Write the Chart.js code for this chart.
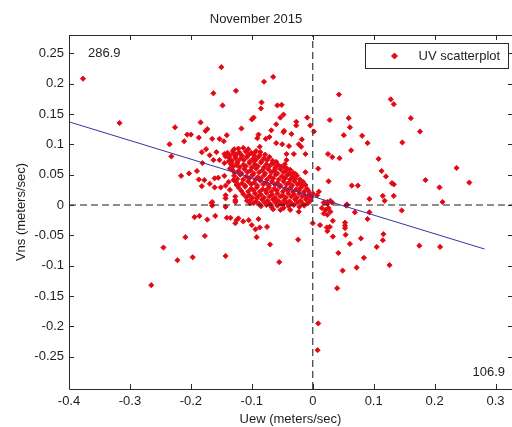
<!DOCTYPE html>
<html>
<head>
<meta charset="utf-8">
<script src="https://cdn.jsdelivr.net/npm/chart.js@4"></script>
<style>
  html, body { margin: 0; padding: 0; background: #ffffff; }
  canvas { display: block; }
</style>
</head>
<body>
<canvas id="c" width="512" height="427"></canvas>
<script>
// ---- data ----
const chartTitle = 'November 2015';
const xAxisTitle = 'Uew (meters/sec)';
const yAxisTitle = 'Vns (meters/sec)';
const seriesName = 'UV scatterplot';
const cornerLabels = ['286.9', '106.9'];

const xTicks = [-0.4, -0.3, -0.2, -0.1, 0, 0.1, 0.2, 0.3];
const yTicks = [-0.25, -0.2, -0.15, -0.1, -0.05, 0, 0.05, 0.1, 0.15, 0.2, 0.25];
const xRange = [-0.4, 0.327];
const yRange = [-0.303, 0.28];

// regression line end points [u, v]
const fitLine = [[-0.4, 0.137], [0.282, -0.0725]];

// scattered (isolated) points [u, v]
const scatterOuter = [
  [-0.377,0.208],[-0.317,0.135],
  [-0.150,0.227],[-0.126,0.188],[-0.163,0.184],[-0.148,0.164],[-0.226,0.128],[-0.184,0.136],[-0.206,0.116],[-0.200,0.116],
  [-0.176,0.122],[-0.173,0.125],[-0.141,0.115],[-0.187,0.111],[-0.165,0.109],[-0.153,0.109],[-0.146,0.105],[-0.211,0.105],
  [-0.235,0.100],[-0.232,0.080],[-0.129,0.092],[-0.175,0.092],[-0.182,0.087],[-0.158,0.087],[-0.169,0.082],[-0.145,0.084],
  [-0.163,0.074],[-0.153,0.074],[-0.181,0.069],[-0.143,0.080],[-0.138,0.072],[-0.145,0.069],[-0.133,0.070],[-0.127,0.077],
  [-0.125,0.066],[-0.136,0.060],[-0.190,0.056],[-0.216,0.048],[-0.203,0.052],[-0.187,0.042],[-0.178,0.041],[-0.161,0.044],
  [-0.155,0.045],[-0.145,0.048],[-0.182,0.031],[-0.169,0.035],[-0.161,0.029],[-0.151,0.029],[-0.143,0.032],[-0.138,0.038],
  [-0.143,0.016],[-0.165,0.005],[-0.127,0.014],[-0.127,0.005],[-0.136,0.025],[-0.130,0.041],[-0.125,0.033],
  [-0.065,0.211],[-0.080,0.203],[-0.084,0.169],[-0.085,0.159],[-0.058,0.164],[-0.051,0.165],[-0.048,0.149],[-0.053,0.144],
  [-0.100,0.141],[-0.097,0.144],[-0.009,0.144],[-0.027,0.137],[-0.027,0.131],[-0.004,0.131],[-0.060,0.133],[-0.117,0.126],
  [-0.068,0.123],[-0.048,0.120],[-0.047,0.122],[-0.035,0.117],[0.002,0.121],[-0.089,0.116],[-0.091,0.110],[-0.077,0.109],
  [-0.071,0.112],[-0.018,0.108],[-0.060,0.102],[-0.050,0.100],[-0.039,0.097],[-0.023,0.100],[-0.019,0.096],[-0.087,0.096],
  [-0.122,0.093],[-0.114,0.094],[-0.106,0.092],[-0.130,0.085],[-0.119,0.084],[-0.106,0.082],[-0.096,0.085],[-0.043,0.084],
  [-0.031,0.084],[-0.012,0.084],[-0.043,0.074],[-0.046,0.067],[-0.065,0.068],[-0.062,0.059],[-0.042,0.060],[0.009,0.060],
  [-0.037,0.051],[-0.028,0.051],[-0.012,0.054],[-0.046,0.044],[-0.096,0.072],[0.000,0.019],
  [0.043,0.182],[0.128,0.174],[0.133,0.166],[0.028,0.140],[0.059,0.143],[0.161,0.143],[0.061,0.128],[0.051,0.115],
  [0.081,0.114],[0.090,0.102],[0.147,0.103],[0.063,0.090],[0.025,0.084],[0.032,0.079],[0.044,0.077],[0.108,0.076],
  [0.113,0.056],[0.120,0.047],[0.026,0.039],[0.130,0.036],[0.133,0.034],[0.064,0.032],[0.074,0.032],[0.115,0.015],
  [0.133,0.015],[0.093,0.010],[0.118,0.007],[0.010,0.022],[0.007,0.016],[0.024,0.005],[0.029,0.007],[0.056,0.001],
  [0.176,0.121],[0.236,0.061],[0.185,0.041],[0.257,0.037],[0.208,0.029],[0.213,0.005],
  [-0.166,0.003],[-0.165,-0.001],[-0.143,0.011],[-0.143,-0.003],[-0.127,0.008],
  [-0.194,-0.020],[-0.186,-0.018],[-0.173,-0.024],[-0.160,-0.018],[-0.141,-0.021],[-0.135,-0.021],[-0.127,-0.030],[-0.125,-0.025],
  [-0.209,-0.053],[-0.177,-0.051],[-0.245,-0.070],[-0.222,-0.091],[-0.197,-0.086],[-0.143,-0.084],[-0.265,-0.132],
  [-0.108,0.007],[-0.103,0.003],[-0.092,0.011],[-0.075,0.005],[-0.059,0.008],[-0.048,-0.005],[-0.037,-0.008],[-0.023,-0.011],
  [-0.122,-0.022],[-0.114,-0.027],[-0.105,-0.025],[-0.100,-0.033],[-0.094,-0.040],[-0.087,-0.037],[-0.089,-0.023],[-0.075,-0.036],
  [-0.065,-0.007],[-0.053,-0.008],[-0.092,-0.053],[-0.070,-0.065],[-0.024,-0.057],[-0.055,-0.094],[0.000,-0.030],
  [0.009,-0.195],[0.008,-0.239],
  [0.018,0.004],[0.024,0.002],[0.015,-0.005],[0.021,-0.008],[0.026,-0.005],[0.018,-0.014],[0.024,-0.016],[0.029,-0.011],
  [0.032,0.004],[0.055,-0.001],[0.069,-0.012],[0.093,-0.012],[0.146,-0.009],[0.090,-0.023],[0.012,-0.033],[0.023,-0.037],
  [0.028,-0.036],[0.024,-0.043],[0.033,-0.026],[0.053,-0.029],[0.053,-0.034],[0.053,-0.038],[0.054,-0.049],[0.033,-0.052],
  [0.061,-0.064],[0.079,-0.055],[0.116,-0.048],[0.115,-0.058],[0.105,-0.069],[0.042,-0.079],[0.084,-0.087],[0.049,-0.108],
  [0.072,-0.103],[0.126,-0.099],[0.040,-0.137],
  [0.175,-0.067],[0.209,-0.069]
];

// dense core of points (estimated positions inside the solid red cluster) [u, v]
const scatterCore = [
  [-0.140,0.086],[-0.131,0.089],[-0.121,0.087],[-0.110,0.088],[-0.101,0.086],[-0.093,0.089],[-0.086,0.087],
  [-0.136,0.082],[-0.126,0.083],[-0.116,0.081],[-0.105,0.083],[-0.096,0.081],[-0.087,0.082],[-0.078,0.083],
  [-0.137,0.078],[-0.127,0.080],[-0.118,0.077],[-0.108,0.079],[-0.098,0.076],[-0.089,0.079],[-0.080,0.077],[-0.071,0.079],
  [-0.133,0.073],[-0.123,0.072],[-0.113,0.074],[-0.103,0.072],[-0.094,0.074],[-0.084,0.072],[-0.075,0.074],[-0.066,0.073],[-0.060,0.071],
  [-0.134,0.067],[-0.124,0.069],[-0.114,0.066],[-0.104,0.069],[-0.095,0.067],[-0.085,0.070],[-0.076,0.067],[-0.066,0.069],[-0.057,0.066],
  [-0.131,0.063],[-0.120,0.062],[-0.110,0.064],[-0.100,0.062],[-0.090,0.064],[-0.080,0.062],[-0.071,0.064],[-0.061,0.062],[-0.052,0.063],[-0.046,0.062],
  [-0.132,0.058],[-0.122,0.056],[-0.112,0.059],[-0.102,0.057],[-0.093,0.060],[-0.083,0.057],[-0.073,0.059],[-0.063,0.056],[-0.053,0.059],[-0.044,0.056],[-0.037,0.058],
  [-0.128,0.053],[-0.117,0.052],[-0.107,0.054],[-0.097,0.052],[-0.088,0.054],[-0.078,0.052],[-0.068,0.054],[-0.058,0.052],[-0.048,0.054],[-0.039,0.052],[-0.032,0.053],
  [-0.129,0.048],[-0.119,0.050],[-0.109,0.047],[-0.099,0.049],[-0.090,0.046],[-0.080,0.049],[-0.070,0.047],[-0.061,0.050],[-0.051,0.047],[-0.042,0.049],[-0.033,0.046],[-0.026,0.048],
  [-0.124,0.043],[-0.114,0.042],[-0.104,0.044],[-0.094,0.042],[-0.085,0.044],[-0.075,0.042],[-0.065,0.044],[-0.056,0.042],[-0.046,0.044],[-0.037,0.042],[-0.029,0.043],[-0.021,0.042],
  [-0.126,0.038],[-0.116,0.036],[-0.106,0.039],[-0.096,0.037],[-0.086,0.040],[-0.077,0.037],[-0.067,0.039],[-0.058,0.036],[-0.048,0.039],[-0.039,0.037],[-0.030,0.039],[-0.022,0.036],[-0.016,0.038],
  [-0.122,0.033],[-0.111,0.032],[-0.101,0.034],[-0.091,0.032],[-0.081,0.034],[-0.072,0.032],[-0.062,0.034],[-0.053,0.032],[-0.043,0.034],[-0.034,0.032],[-0.025,0.034],[-0.018,0.032],[-0.012,0.033],
  [-0.121,0.028],[-0.111,0.030],[-0.101,0.027],[-0.092,0.029],[-0.082,0.026],[-0.072,0.029],[-0.063,0.027],[-0.054,0.030],[-0.045,0.027],[-0.036,0.029],[-0.027,0.026],[-0.019,0.029],[-0.010,0.027],
  [-0.117,0.023],[-0.106,0.022],[-0.097,0.024],[-0.087,0.022],[-0.077,0.024],[-0.068,0.022],[-0.059,0.024],[-0.049,0.022],[-0.041,0.024],[-0.032,0.022],[-0.023,0.024],[-0.014,0.022],[-0.007,0.023],
  [-0.114,0.018],[-0.104,0.016],[-0.095,0.019],[-0.085,0.017],[-0.076,0.020],[-0.067,0.017],[-0.058,0.019],[-0.049,0.016],[-0.040,0.019],[-0.031,0.017],[-0.022,0.019],[-0.013,0.016],[-0.005,0.018],
  [-0.109,0.013],[-0.099,0.012],[-0.090,0.014],[-0.080,0.012],[-0.071,0.014],[-0.062,0.012],[-0.053,0.014],[-0.044,0.012],[-0.035,0.014],[-0.026,0.012],[-0.017,0.014],[-0.009,0.012],[-0.003,0.013],
  [-0.103,0.008],[-0.093,0.006],[-0.083,0.009],[-0.074,0.007],[-0.065,0.009],[-0.056,0.006],[-0.047,0.008],[-0.038,0.006],[-0.029,0.009],[-0.020,0.007],[-0.011,0.009],[-0.004,0.007],
  [-0.097,0.003],[-0.088,0.002],[-0.079,0.004],[-0.070,0.002],[-0.061,0.004],[-0.052,0.002],[-0.043,0.004],[-0.034,0.002],[-0.025,0.004],[-0.016,0.002],[-0.008,0.003],
  [-0.085,-0.002],[-0.076,0.000],[-0.068,-0.003],[-0.058,-0.001],[-0.049,0.001],[-0.040,-0.002],[-0.031,0.000],[-0.022,-0.003],[-0.014,-0.001]
];

// ---- styling helpers ----
const FONT = 'Liberation Sans, Arial, Helvetica, sans-serif';
const TEXT = '#1e1e1e';
const AXIS = '#2a2a2a';
const toXY = arr => arr.map(p => ({ x: p[0], y: p[1] }));
const fmt = v => String(Number(v.toFixed(3)));

const framePlugin = {
  id: 'matlabFrame',
  afterDraw(chart) {
    const { ctx, chartArea: a, scales } = chart;
    ctx.save();
    ctx.strokeStyle = AXIS;
    ctx.lineWidth = 1;
    // frame: left, bottom, top (the right edge of the box lies past the picture)
    ctx.beginPath();
    ctx.moveTo(a.left + 0.5, a.top + 0.5);
    ctx.lineTo(a.left + 0.5, a.bottom + 0.5);
    ctx.lineTo(a.right + 2, a.bottom + 0.5);
    ctx.moveTo(a.left + 0.5, a.top + 0.5);
    ctx.lineTo(a.right + 2, a.top + 0.5);
    ctx.stroke();
    // inward ticks
    const tl = 5;
    ctx.beginPath();
    scales.x.ticks.forEach(t => {
      const px = Math.round(scales.x.getPixelForValue(t.value)) + 0.5;
      ctx.moveTo(px, a.bottom); ctx.lineTo(px, a.bottom - tl);
      ctx.moveTo(px, a.top); ctx.lineTo(px, a.top + tl);
    });
    scales.y.ticks.forEach(t => {
      const py = Math.round(scales.y.getPixelForValue(t.value)) + 0.5;
      ctx.moveTo(a.left, py); ctx.lineTo(a.left + tl, py);
      ctx.moveTo(a.right + 1, py); ctx.lineTo(a.right + 1 - tl, py);
    });
    ctx.stroke();

    // corner labels
    ctx.fillStyle = TEXT;
    ctx.font = '13px ' + FONT;
    ctx.textBaseline = 'middle';
    ctx.textAlign = 'left';
    ctx.fillText(cornerLabels[0], a.left + 19, a.top + 18);
    ctx.textAlign = 'right';
    ctx.fillText(cornerLabels[1], a.right - 7, a.bottom - 17);

    // legend box (inside, top-right)
    const ds = chart.data.datasets[0];
    const bw = 143, bh = 25;
    const bx = Math.round(a.right - 4 - bw) + 0.5, by = Math.round(a.top + 8) + 0.5;
    ctx.fillStyle = '#ffffff';
    ctx.fillRect(bx, by, bw, bh);
    ctx.strokeStyle = AXIS;
    ctx.strokeRect(bx, by, bw, bh);
    ctx.fillStyle = ds.backgroundColor;
    ctx.strokeStyle = ds.borderColor;
    ctx.lineWidth = ds.borderWidth;
    ctx.beginPath();
    const r = ds.pointRadius + 0.4, cx = bx + 29, cy = by + bh / 2;
    ctx.moveTo(cx, cy - r); ctx.lineTo(cx + r, cy); ctx.lineTo(cx, cy + r); ctx.lineTo(cx - r, cy); ctx.closePath();
    ctx.fill(); ctx.stroke();
    ctx.fillStyle = TEXT;
    ctx.textAlign = 'left';
    ctx.textBaseline = 'middle';
    ctx.font = '13px ' + FONT;
    ctx.fillText(ds.label, bx + 53, by + bh / 2 + 0.5);
    ctx.restore();
  }
};

new Chart(document.getElementById('c'), {
  type: 'scatter',
  data: {
    datasets: [
      {
        label: seriesName,
        data: toXY(scatterOuter.concat(scatterCore)),
        pointStyle: 'rectRot',
        pointRadius: 2.6,
        backgroundColor: '#cc0f22',
        borderColor: '#ff0a0a',
        borderWidth: 1,
        order: 5
      },
      {
        label: 'fit',
        data: toXY(fitLine),
        showLine: true,
        pointRadius: 0,
        borderColor: '#3434a4',
        borderWidth: 1,
        order: 1
      },
      {
        label: 'u0',
        data: toXY([[0, yRange[0]], [0, yRange[1]]]),
        showLine: true,
        pointRadius: 0,
        borderColor: '#3a3a3a',
        borderWidth: 1.2,
        borderDash: [7, 4],
        order: 2
      },
      {
        label: 'v0',
        data: toXY([[xRange[0], 0], [xRange[1], 0]]),
        showLine: true,
        pointRadius: 0,
        borderColor: '#1e1e1e',
        borderWidth: 1.2,
        borderDash: [7, 4],
        order: 2
      }
    ]
  },
  options: {
    responsive: false,
    animation: false,
    events: [],
    layout: { padding: 0, autoPadding: false },
    plugins: {
      legend: { display: false },
      tooltip: { enabled: false },
      title: {
        display: true,
        text: chartTitle,
        color: TEXT,
        font: { family: FONT, size: 13, weight: 'normal' },
        padding: { top: 12, bottom: 7.4 }
      }
    },
    scales: {
      x: {
        type: 'linear',
        min: xRange[0],
        max: xRange[1],
        afterBuildTicks: s => { s.ticks = xTicks.map(v => ({ value: v })); },
        afterFit: s => { s.height = 38; s.paddingLeft = 0; s.paddingRight = 0; },
        grid: { display: false, drawTicks: false },
        border: { display: false },
        ticks: {
          autoSkip: false, maxRotation: 0, padding: 5,
          color: TEXT, font: { family: FONT, size: 13 },
          callback: v => fmt(v)
        },
        title: {
          display: true, text: xAxisTitle, color: TEXT,
          font: { family: FONT, size: 13 }, padding: { top: 0, bottom: 0 }
        }
      },
      y: {
        type: 'linear',
        min: yRange[0],
        max: yRange[1],
        afterBuildTicks: s => { s.ticks = yTicks.map(v => ({ value: v })); },
        afterFit: s => { s.width = 69; s.paddingTop = 0; s.paddingBottom = 0; },
        grid: { display: false, drawTicks: false },
        border: { display: false },
        ticks: {
          autoSkip: false, padding: 5,
          color: TEXT, font: { family: FONT, size: 13 },
          callback: v => fmt(v)
        },
        title: {
          display: true, text: yAxisTitle, color: TEXT,
          font: { family: FONT, size: 13 }, padding: { top: 14, bottom: 0 }
        }
      }
    }
  },
  plugins: [framePlugin]
});
</script>
</body>
</html>
